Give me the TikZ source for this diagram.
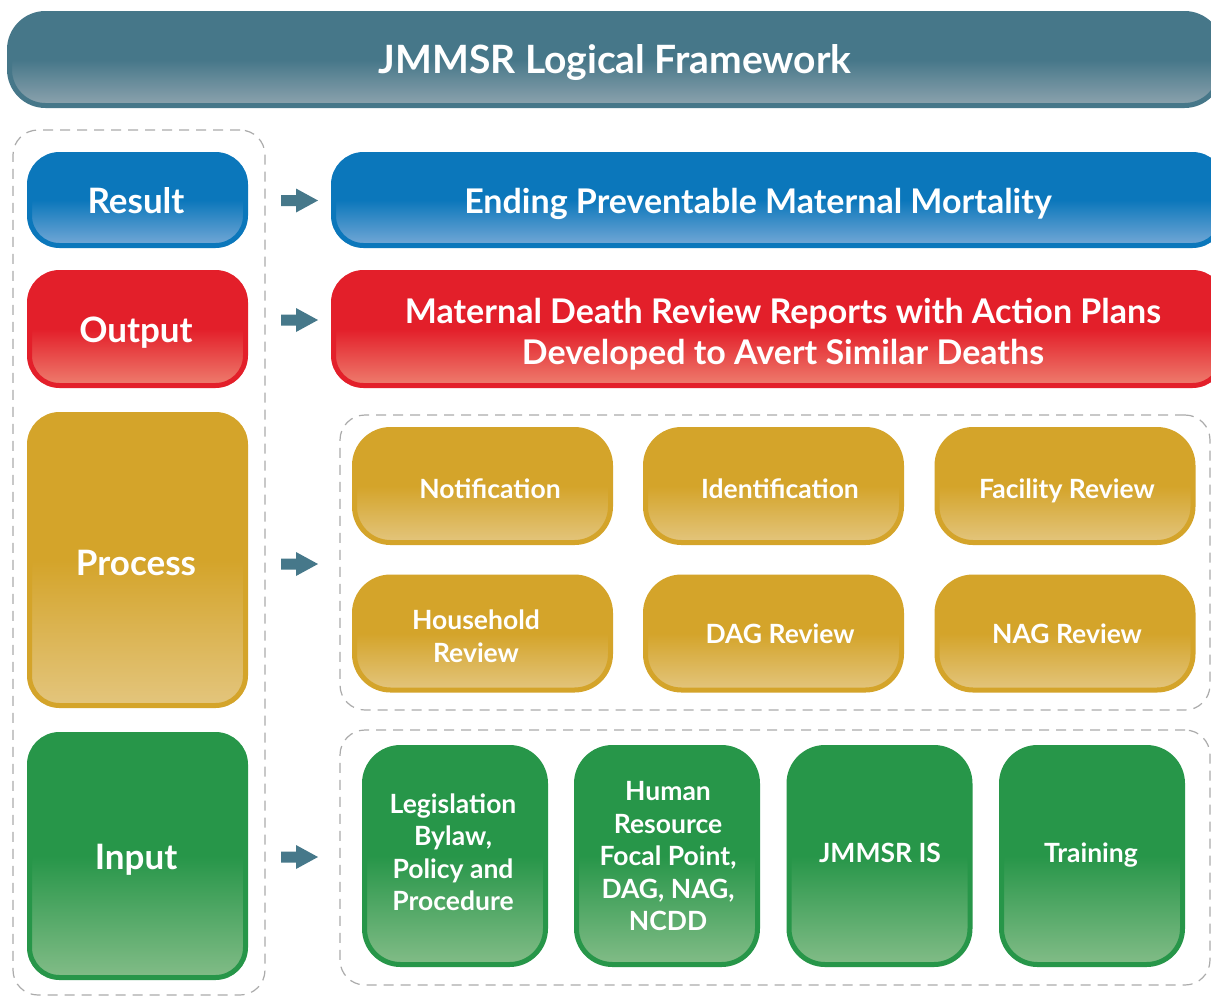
\documentclass[tikz,border=0pt]{standalone}
\usepackage{fontspec}
\setmainfont{Lato}
\definecolor{teal1}{HTML}{467789}\definecolor{teal2}{HTML}{8DA3AE}
\definecolor{blue1}{HTML}{0B77BB}\definecolor{blue2}{HTML}{74A8D6}
\definecolor{red1}{HTML}{E31F2A}\definecolor{red2}{HTML}{EE7D6E}
\definecolor{gold1}{HTML}{D4A42A}\definecolor{gold2}{HTML}{E3C57D}
\definecolor{green1}{HTML}{279649}\definecolor{green2}{HTML}{82BC87}
\definecolor{arrowc}{HTML}{46788A}
\definecolor{dashc}{HTML}{ABABAB}
\tikzset{
  basebox/.style={rectangle, line width=5pt, inner sep=0pt},
  tealbox/.style={basebox, draw=teal1, top color=teal1, bottom color=teal2, middle color=teal1},
  bluebox/.style={basebox, draw=blue1, top color=blue1, bottom color=blue2, middle color=blue1},
  redbox/.style={basebox, draw=red1, top color=red1, bottom color=red2, middle color=red1},
  goldbox/.style={basebox, draw=gold1, top color=gold1, bottom color=gold2, middle color=gold1},
  greenbox/.style={basebox, draw=green1, top color=green1, bottom color=green2, middle color=green1},
  lefttag/.style={minimum width=216pt, rounded corners=30pt},
  wtxt/.style={text=white, align=center, inner sep=0pt},
  titletxt/.style={wtxt, text height=27.9pt, text depth=0pt, font=\bfseries\fontsize{39}{44}\selectfont},
  tagtxt/.style={wtxt, text height=25.1pt, text depth=0pt, font=\bfseries\fontsize{35}{40}\selectfont},
  bigtxt/.style={wtxt, font=\bfseries\fontsize{34}{41.5}\selectfont},
  bigc/.style={text height=24.4pt, text depth=0pt},
  subtxt/.style={wtxt, font=\bfseries\fontsize{26.5}{32.5}\selectfont},
  subc/.style={text height=19pt, text depth=0pt},
  procsub/.style={goldbox, minimum width=256pt, minimum height=113pt, rounded corners=36pt},
  inpsub/.style={greenbox, minimum width=181pt, minimum height=217pt, rounded corners=36pt},
  grpbox/.style={rectangle, draw=dashc, line width=1.2pt, dash pattern=on 10pt off 7pt, rounded corners=25pt, inner sep=0pt},
  fatarrow/.style={fill=arrowc}
}
\begin{document}
\begin{tikzpicture}[x=1pt,y=-1pt]
\path[use as bounding box, clip] (0,0) rectangle (1211,997);
\fill[white] (0,0) rectangle (1211,997);

% title
\node[tealbox, minimum width=1211pt, minimum height=92pt, rounded corners=36pt] (title) at (615,59.5) {};
\node[titletxt] (titlet) at (615,60) {JMMSR Logical Framework};

% dashed groups
\node[grpbox, minimum width=252pt, minimum height=865pt] (leftgrp) at (139,562.5) {};
\node[grpbox, minimum width=870pt, minimum height=295pt] (procgrp) at (775,562.5) {};
\node[grpbox, minimum width=870pt, minimum height=255pt] (inpgrp) at (775,857.5) {};

% left tags
\node[bluebox, lefttag, minimum height=91pt] (result) at (137.5,200) {};
\node[redbox, lefttag, minimum height=113pt] (output) at (137.5,329) {};
\node[goldbox, lefttag, minimum height=291pt] (process) at (137.5,560) {};
\node[greenbox, lefttag, minimum height=243pt] (input) at (137.5,856) {};
\node[tagtxt] (resultt) at (136,201) {Result};
\node[tagtxt] (outputt) at (136,330) {Output};
\node[tagtxt] (processt) at (136,563) {Process};
\node[tagtxt] (inputt) at (136,857) {Input};

% right wide boxes
\node[bluebox, minimum width=889pt, minimum height=91pt, rounded corners=30pt] (resbox) at (778,200) {};
\node[bigtxt, bigc] (restxt) at (758,201) {Ending Preventable Maternal Mortality};
\node[redbox, minimum width=889pt, minimum height=113pt, rounded corners=30pt] (outbox) at (778,329) {};
\node[bigtxt, anchor=base] (outtxt) at (783,364.5) {Maternal Death Review Reports with Action Plans\\Developed to Avert Similar Deaths};

% process sub boxes
\node[procsub] (p1) at (482.5,486) {};
\node[procsub] (p2) at (773.5,486) {};
\node[procsub] (p3) at (1065,486) {};
\node[procsub] (p4) at (482.5,633.5) {};
\node[procsub] (p5) at (773.5,633.5) {};
\node[procsub] (p6) at (1065,633.5) {};
\node[subtxt, subc] (p1t) at (490,489) {Notification};
\node[subtxt, subc] (p2t) at (780,489) {Identification};
\node[subtxt, subc] (p3t) at (1067,489) {Facility Review};
\node[subtxt, anchor=base] (p4t) at (476,662) {Household\\Review};
\node[subtxt, subc] (p5t) at (780,634) {DAG Review};
\node[subtxt, subc] (p6t) at (1067,634) {NAG Review};

% input sub boxes
\node[inpsub] (i1) at (455,856) {};
\node[inpsub] (i2) at (667,856) {};
\node[inpsub] (i3) at (879.5,856) {};
\node[inpsub] (i4) at (1092,856) {};
\node[subtxt, anchor=base] (i1t) at (453,910.5) {Legislation\\Bylaw,\\Policy and\\Procedure};
\node[subtxt, anchor=base] (i2t) at (668,930.5) {Human\\Resource\\Focal Point,\\DAG, NAG,\\NCDD};
\node[subtxt, subc] (i3t) at (880,853) {JMMSR IS};
\node[subtxt, subc] (i4t) at (1091,853) {Training};

% arrows
\foreach \n/\yy in {a1/200.5, a2/320, a3/564, a4/857}{
  \coordinate (\n) at (281,\yy);
  \fill[fatarrow] (\n) ++(0,-5.5) -- ++(15,0) -- ++(0,-6.5) -- ++(22,12) -- ++(-22,12) -- ++(0,-6.5) -- ++(-15,0) -- cycle;
}
\end{tikzpicture}
\end{document}
